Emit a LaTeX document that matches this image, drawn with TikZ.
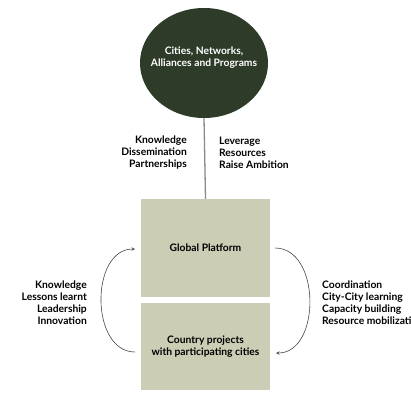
\documentclass[tikz,border=0pt]{standalone}
\usepackage{fontspec}
\setmainfont{Lato}
\usetikzlibrary{shapes.geometric}
\definecolor{darkgreen}{HTML}{2D3B28}
\definecolor{sage}{HTML}{CBCDB5}
\definecolor{arcgreen}{HTML}{3D4A3A}
\definecolor{stemgray}{HTML}{8B8B83}
\begin{document}
\begin{tikzpicture}
		[x=1pt,y=-1pt,
		 every node/.style={font=\bfseries\fontsize{10.3}{12}\selectfont},
		 hub/.style={ellipse,fill=darkgreen,text=white,align=center,minimum width=128pt,minimum height=110pt},
		 panel/.style={rectangle,fill=sage,align=center,minimum width=129pt},
		 lbl/.style={inner sep=0pt},
		 loop/.style={draw=arcgreen,line width=0.6pt,-stealth}]
		\useasboundingbox (0,0) rectangle (411,401);
		\node [hub](net) at (204,63) {};
		\node [lbl,text=white,align=center](nettext) at (204,58) {Cities, Networks,\\Alliances and Programs};
		\node [panel,minimum height=98pt](glob) at (205.5,248) {Global Platform};
		\node [panel,minimum height=87pt](ctry) at (205.5,346.5) {Country projects\\with participating cities};
		\draw [stemgray,line width=1.3pt] (net.south) -- (glob.north);
		\node [lbl,anchor=east,align=right](dn) at (187,153) {Knowledge\\Dissemination\\Partnerships};
		\node [lbl,anchor=west,align=left](up) at (219,153) {Leverage\\Resources\\Raise Ambition};
		\node [lbl,anchor=east,align=right](lf) at (87,302.5) {Knowledge\\Lessons learnt\\Leadership\\Innovation};
		\node [lbl,anchor=west,align=left](rt) at (322,302.5) {Coordination\\City-City learning\\Capacity building\\Resource mobilization};
		\coordinate (l1) at (135,352);
		\coordinate (l2) at (135,249);
		\coordinate (r1) at (275,248);
		\coordinate (r2) at (276,353);
		\draw [loop] (l1) .. controls (90,352) and (90,249) .. (l2);
		\draw [loop] (r1) .. controls (321,248) and (321,353) .. (r2);
	\end{tikzpicture}
\end{document}
